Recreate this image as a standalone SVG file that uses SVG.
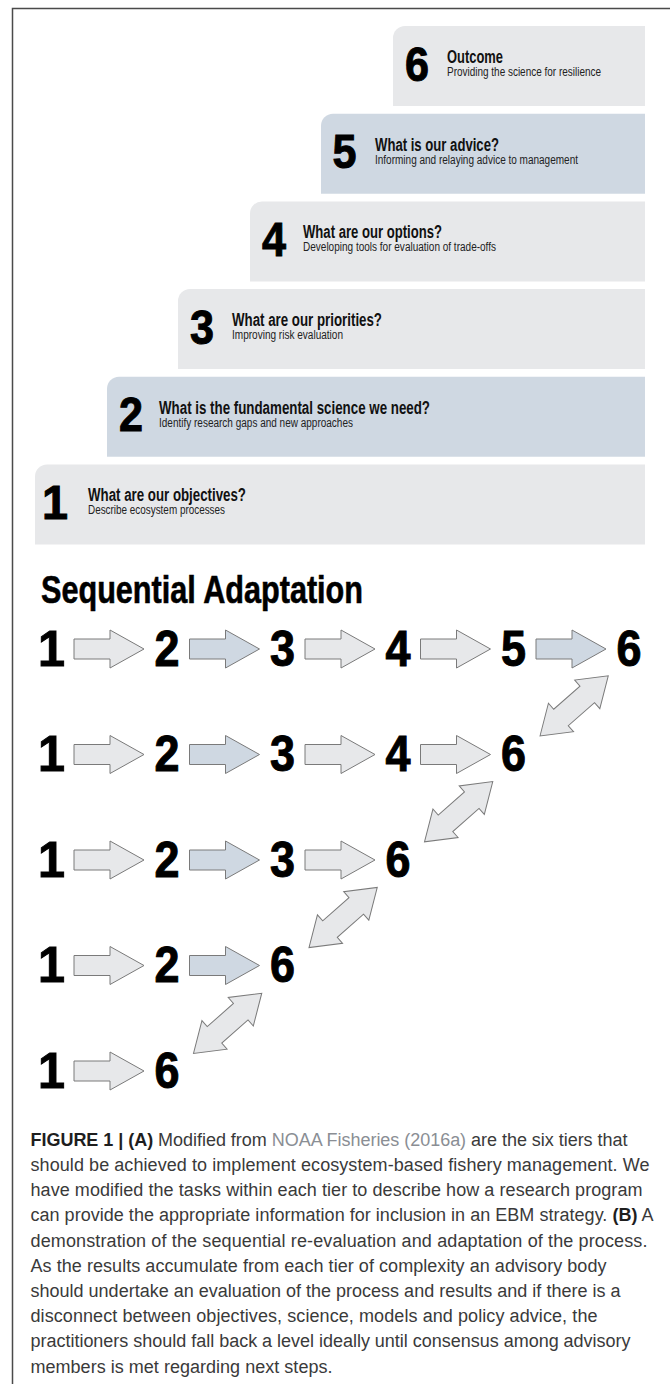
<svg xmlns="http://www.w3.org/2000/svg" xmlns:xlink="http://www.w3.org/1999/xlink" width="670" height="1384" viewBox="0 0 670 1384">
<style>
.gray{fill:#e7e8ea}
.blue{fill:#cfd8e2}
.big{font-family:"Liberation Sans",Arial,sans-serif;font-weight:bold;font-size:48px;fill:#000;stroke:#000;stroke-width:1}
.num{font-family:"Liberation Sans",Arial,sans-serif;font-weight:bold;font-size:50px;fill:#000;stroke:#000;stroke-width:1;text-anchor:middle}
.ttl{font-family:"Liberation Sans",Arial,sans-serif;font-weight:bold;font-size:18px;fill:#111}
.sub{font-family:"Liberation Sans",Arial,sans-serif;font-size:12.5px;fill:#222}
.head{font-family:"Liberation Sans",Arial,sans-serif;font-weight:bold;font-size:39px;fill:#000;stroke:#000;stroke-width:0.6}
.arr{stroke:#7a7a7a;stroke-width:1}
.cap{font-family:"Liberation Sans",Arial,sans-serif;font-size:18px;fill:#3a3a3a}
.b{font-weight:bold;fill:#1e1e1e}
.lnk{fill:#8a8e94}
</style>
<defs>
<path id="ha" d="M0,-10 H36 V-19 L70,0 L36,19 V10 H0 Z"/>
<path id="da" d="M0,0 L28,-19 L28,-11 L63,-11 L63,-19 L91,0 L63,19 L63,11 L28,11 L28,19 Z"/>
</defs>
<g id="frame" fill="none" stroke="#4a4a4a" stroke-width="1.5">
<path d="M12.5,1384 V8.5 H670"/>
</g>
<g id="tier6">
<path class="gray" d="M405,26 H645 V106 H393 V38 A12,12 0 0 1 405,26 Z"/>
<text class="big" x="405" y="80.5" textLength="24" lengthAdjust="spacingAndGlyphs">6</text>
<text class="ttl" x="447" y="63" textLength="56" lengthAdjust="spacingAndGlyphs">Outcome</text>
<text class="sub" x="447" y="76" textLength="154" lengthAdjust="spacingAndGlyphs">Providing the science for resilience</text>
</g>
<g id="tier5">
<path class="blue" d="M333,113.7 H645 V193.7 H321 V125.7 A12,12 0 0 1 333,113.7 Z"/>
<text class="big" x="332.5" y="168.2" textLength="24" lengthAdjust="spacingAndGlyphs">5</text>
<text class="ttl" x="375" y="150.7" textLength="124" lengthAdjust="spacingAndGlyphs">What is our advice?</text>
<text class="sub" x="375" y="163.7" textLength="203" lengthAdjust="spacingAndGlyphs">Informing and relaying advice to management</text>
</g>
<g id="tier4">
<path class="gray" d="M262,201.4 H645 V281.4 H250 V213.4 A12,12 0 0 1 262,201.4 Z"/>
<text class="big" x="262" y="255.9" textLength="24" lengthAdjust="spacingAndGlyphs">4</text>
<text class="ttl" x="303" y="238.4" textLength="139" lengthAdjust="spacingAndGlyphs">What are our options?</text>
<text class="sub" x="303" y="251.4" textLength="193" lengthAdjust="spacingAndGlyphs">Developing tools for evaluation of trade-offs</text>
</g>
<g id="tier3">
<path class="gray" d="M190,289 H645 V369 H178 V301 A12,12 0 0 1 190,289 Z"/>
<text class="big" x="190" y="343.5" textLength="24" lengthAdjust="spacingAndGlyphs">3</text>
<text class="ttl" x="232" y="326" textLength="150" lengthAdjust="spacingAndGlyphs">What are our priorities?</text>
<text class="sub" x="232" y="339" textLength="111" lengthAdjust="spacingAndGlyphs">Improving risk evaluation</text>
</g>
<g id="tier2">
<path class="blue" d="M119,376.7 H645 V456.7 H107 V388.7 A12,12 0 0 1 119,376.7 Z"/>
<text class="big" x="119" y="431.2" textLength="24" lengthAdjust="spacingAndGlyphs">2</text>
<text class="ttl" x="159" y="413.7" textLength="271" lengthAdjust="spacingAndGlyphs">What is the fundamental science we need?</text>
<text class="sub" x="159" y="426.7" textLength="194" lengthAdjust="spacingAndGlyphs">Identify research gaps and new approaches</text>
</g>
<g id="tier1">
<path class="gray" d="M47,464.4 H645 V544.4 H35 V476.4 A12,12 0 0 1 47,464.4 Z"/>
<text class="big" x="42" y="518.9" textLength="26" lengthAdjust="spacingAndGlyphs">1</text>
<text class="ttl" x="88" y="501.4" textLength="158" lengthAdjust="spacingAndGlyphs">What are our objectives?</text>
<text class="sub" x="88" y="514.4" textLength="137" lengthAdjust="spacingAndGlyphs">Describe ecosystem processes</text>
</g>
<g id="heading">
<text class="head" x="41" y="602.7" textLength="322" lengthAdjust="spacingAndGlyphs">Sequential Adaptation</text>
</g>
<g id="row1">
<text class="num" x="51.5" y="665.5" textLength="27" lengthAdjust="spacingAndGlyphs">1</text>
<text class="num" x="167" y="665.5" textLength="25" lengthAdjust="spacingAndGlyphs">2</text>
<text class="num" x="282.5" y="665.5" textLength="25" lengthAdjust="spacingAndGlyphs">3</text>
<text class="num" x="398" y="665.5" textLength="25" lengthAdjust="spacingAndGlyphs">4</text>
<text class="num" x="513.5" y="665.5" textLength="25" lengthAdjust="spacingAndGlyphs">5</text>
<text class="num" x="629" y="665.5" textLength="25" lengthAdjust="spacingAndGlyphs">6</text>
</g>
<g id="row2">
<text class="num" x="51.5" y="771" textLength="27" lengthAdjust="spacingAndGlyphs">1</text>
<text class="num" x="167" y="771" textLength="25" lengthAdjust="spacingAndGlyphs">2</text>
<text class="num" x="282.5" y="771" textLength="25" lengthAdjust="spacingAndGlyphs">3</text>
<text class="num" x="398" y="771" textLength="25" lengthAdjust="spacingAndGlyphs">4</text>
<text class="num" x="513.5" y="771" textLength="25" lengthAdjust="spacingAndGlyphs">6</text>
</g>
<g id="row3">
<text class="num" x="51.5" y="876.5" textLength="27" lengthAdjust="spacingAndGlyphs">1</text>
<text class="num" x="167" y="876.5" textLength="25" lengthAdjust="spacingAndGlyphs">2</text>
<text class="num" x="282.5" y="876.5" textLength="25" lengthAdjust="spacingAndGlyphs">3</text>
<text class="num" x="398" y="876.5" textLength="25" lengthAdjust="spacingAndGlyphs">6</text>
</g>
<g id="row4">
<text class="num" x="51.5" y="982" textLength="27" lengthAdjust="spacingAndGlyphs">1</text>
<text class="num" x="167" y="982" textLength="25" lengthAdjust="spacingAndGlyphs">2</text>
<text class="num" x="282.5" y="982" textLength="25" lengthAdjust="spacingAndGlyphs">6</text>
</g>
<g id="row5">
<text class="num" x="51.5" y="1087.5" textLength="27" lengthAdjust="spacingAndGlyphs">1</text>
<text class="num" x="167" y="1087.5" textLength="25" lengthAdjust="spacingAndGlyphs">6</text>
</g>
<g id="connectors">
<use href="#ha" xlink:href="#ha" class="arr gray" x="74" y="649"/>
<use href="#ha" xlink:href="#ha" class="arr blue" x="189.5" y="649"/>
<use href="#ha" xlink:href="#ha" class="arr gray" x="305" y="649"/>
<use href="#ha" xlink:href="#ha" class="arr gray" x="420.5" y="649"/>
<use href="#ha" xlink:href="#ha" class="arr blue" x="536" y="649"/>
<use href="#ha" xlink:href="#ha" class="arr gray" x="74" y="754.5"/>
<use href="#ha" xlink:href="#ha" class="arr blue" x="189.5" y="754.5"/>
<use href="#ha" xlink:href="#ha" class="arr gray" x="305" y="754.5"/>
<use href="#ha" xlink:href="#ha" class="arr gray" x="420.5" y="754.5"/>
<use href="#ha" xlink:href="#ha" class="arr gray" x="74" y="860"/>
<use href="#ha" xlink:href="#ha" class="arr blue" x="189.5" y="860"/>
<use href="#ha" xlink:href="#ha" class="arr gray" x="305" y="860"/>
<use href="#ha" xlink:href="#ha" class="arr gray" x="74" y="965.5"/>
<use href="#ha" xlink:href="#ha" class="arr blue" x="189.5" y="965.5"/>
<use href="#ha" xlink:href="#ha" class="arr gray" x="74" y="1071"/>
<use href="#da" xlink:href="#da" class="arr gray" transform="translate(540,736) rotate(-41.4)"/>
<use href="#da" xlink:href="#da" class="arr gray" transform="translate(424.5,841.8) rotate(-41.4)"/>
<use href="#da" xlink:href="#da" class="arr gray" transform="translate(309,947.6) rotate(-41.4)"/>
<use href="#da" xlink:href="#da" class="arr gray" transform="translate(193.5,1053.4) rotate(-41.4)"/>
</g>
<g id="caption">
<text class="cap" x="30.5" y="1145.7" textLength="597" lengthAdjust="spacing"><tspan class="b">FIGURE 1 | (A)</tspan> Modified from <tspan class="lnk">NOAA Fisheries (2016a)</tspan> are the six tiers that</text>
<text class="cap" x="30.5" y="1170.9" textLength="619" lengthAdjust="spacing">should be achieved to implement ecosystem-based fishery management. We</text>
<text class="cap" x="30.5" y="1196.1" textLength="612" lengthAdjust="spacing">have modified the tasks within each tier to describe how a research program</text>
<text class="cap" x="30.5" y="1221.3" textLength="623" lengthAdjust="spacing">can provide the appropriate information for inclusion in an EBM strategy. <tspan class="b">(B)</tspan> A</text>
<text class="cap" x="30.5" y="1246.5" textLength="617" lengthAdjust="spacing">demonstration of the sequential re-evaluation and adaptation of the process.</text>
<text class="cap" x="30.5" y="1271.7" textLength="576" lengthAdjust="spacing">As the results accumulate from each tier of complexity an advisory body</text>
<text class="cap" x="30.5" y="1296.9" textLength="590" lengthAdjust="spacing">should undertake an evaluation of the process and results and if there is a</text>
<text class="cap" x="30.5" y="1322.1" textLength="567" lengthAdjust="spacing">disconnect between objectives, science, models and policy advice, the</text>
<text class="cap" x="30.5" y="1347.3" textLength="600" lengthAdjust="spacing">practitioners should fall back a level ideally until consensus among advisory</text>
<text class="cap" x="30.5" y="1372.5" textLength="302" lengthAdjust="spacing">members is met regarding next steps.</text>
</g>
</svg>
